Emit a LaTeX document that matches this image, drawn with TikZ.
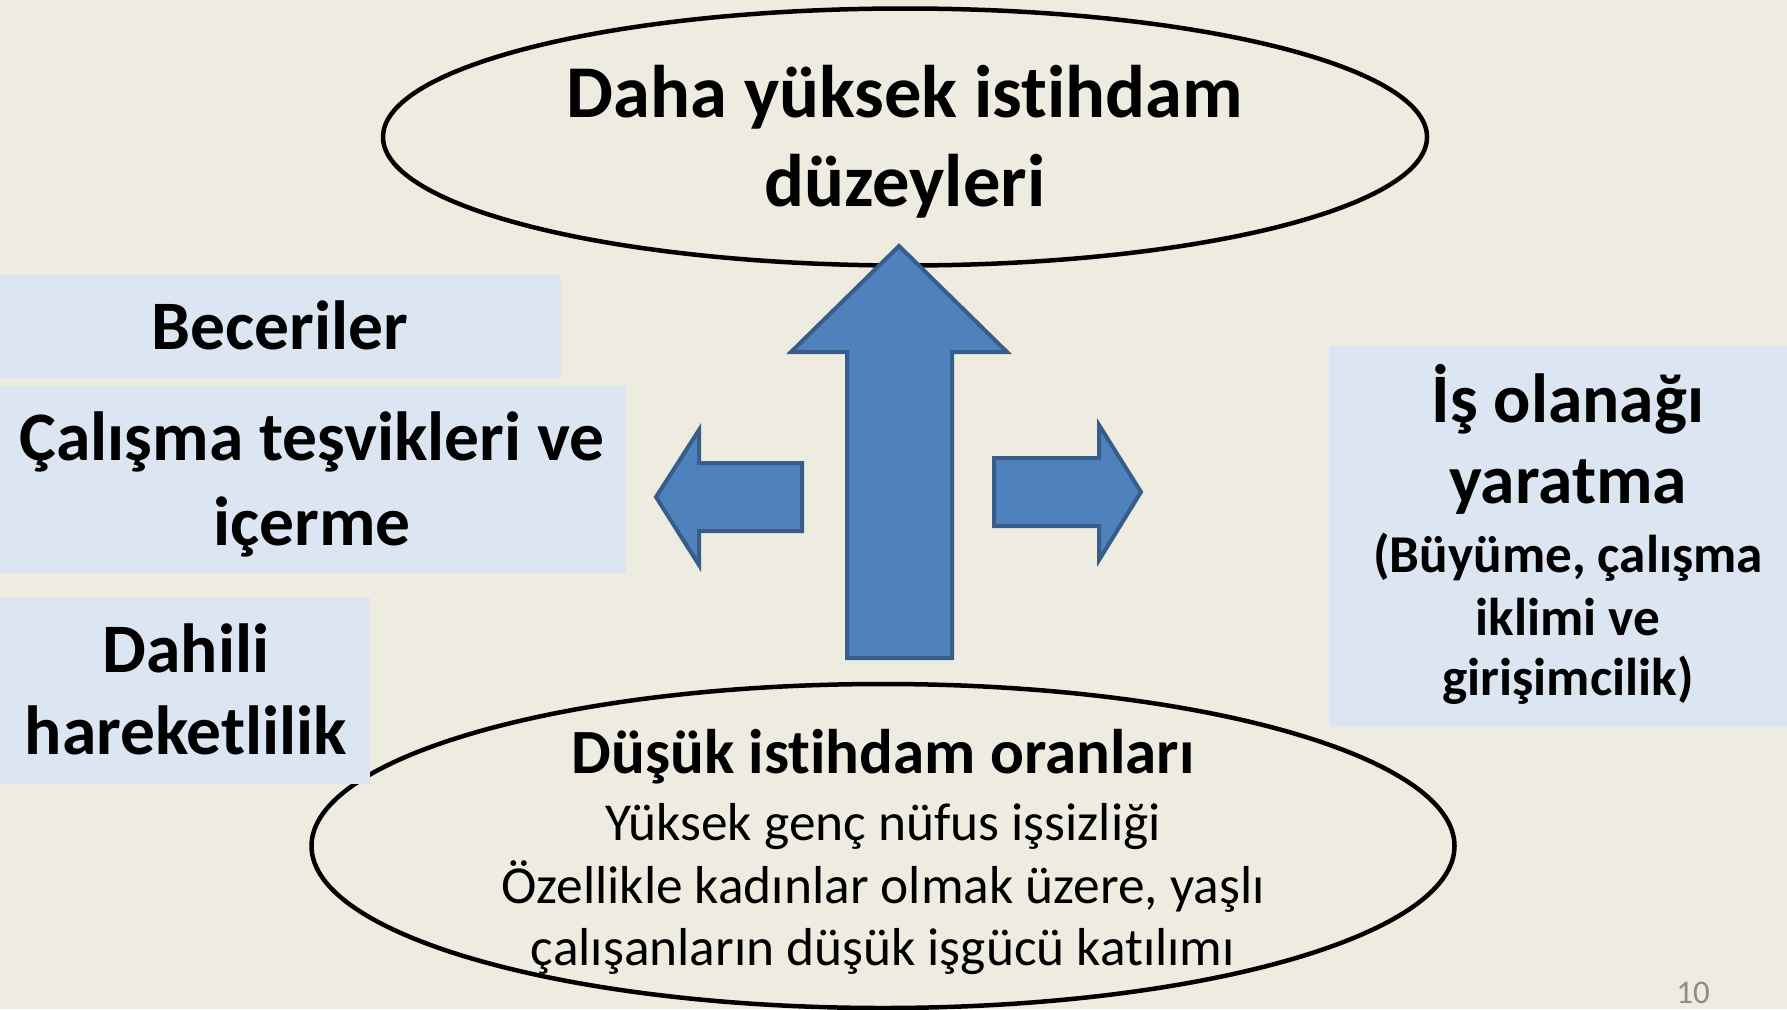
\documentclass[tikz,border=0pt]{standalone}
\usepackage{fontspec}
\setmainfont{Carlito}[Ligatures=NoCommon]
\usetikzlibrary{shapes.geometric}
\definecolor{bgtan}{HTML}{EEECE1}
\definecolor{boxblue}{HTML}{DCE6F2}
\definecolor{arrowfill}{HTML}{4F81BD}
\definecolor{arrowline}{HTML}{385D8A}
\definecolor{pagegray}{HTML}{8C8C8C}
\begin{document}
\begin{tikzpicture}[x=1pt,y=-1pt,
  oval/.style={ellipse, draw=black, line width=4.5pt, inner sep=0pt},
  panel/.style={fill=boxblue, inner sep=0pt, anchor=north west},
  blockarrow/.style={fill=arrowfill, draw=arrowline, line width=4pt, line join=miter},
  toptxt/.style={font=\fontsize{74.5}{90}\selectfont\bfseries, anchor=base, inner sep=0pt},
  bigtxt/.style={font=\fontsize{69.5}{85}\selectfont\bfseries, anchor=base, inner sep=0pt},
  midtxt/.style={font=\fontsize{53.2}{65}\selectfont\bfseries, anchor=base, inner sep=0pt},
  subtxt/.style={font=\fontsize{63}{76}\selectfont\bfseries, anchor=base, inner sep=0pt},
  plaintxt/.style={font=\fontsize{53.4}{65}\selectfont, anchor=base, inner sep=0pt},
  pagetxt/.style={font=\fontsize{33}{40}\selectfont, text=pagegray, anchor=base, inner sep=0pt}
]
\fill[bgtan] (0,0) rectangle (1787,1009);
\useasboundingbox (0,0) rectangle (1787,1009);

% ellipses
\node[oval, minimum width=1044pt, minimum height=257pt] (high) at (905,137) {};
\node[oval, minimum width=1143pt, minimum height=324pt] (low) at (883,846) {};

% panels
\node[panel, minimum width=561pt, minimum height=103pt] (skills) at (0,275) {};
\node[panel, minimum width=626pt, minimum height=187pt] (incent) at (0,386) {};
\node[panel, minimum width=370pt, minimum height=187pt] (mobil) at (0,597) {};
\node[panel, minimum width=458pt, minimum height=381pt] (jobs) at (1329,346) {};

% block arrows
\draw[blockarrow] (899,246) -- (1007,352) -- (952,352) -- (952,658) -- (847,658) -- (847,352) -- (791,352) -- cycle;
\draw[blockarrow] (656,497) -- (699,430) -- (699,463) -- (802,463) -- (802,531) -- (699,531) -- (699,565) -- cycle;
\draw[blockarrow] (1141,492) -- (1099,425) -- (1099,458) -- (994,458) -- (994,526) -- (1099,526) -- (1099,560) -- cycle;

% texts
\node[toptxt] (high1) at (905,117) {Daha yüksek istihdam};
\node[toptxt] (high2) at (905,206) {düzeyleri};

\node[bigtxt] (skills1) at (280,349) {Beceriler};
\node[bigtxt] (incent1) at (312,460) {Çalışma teşvikleri ve};
\node[bigtxt] (incent2) at (312,545) {içerme};
\node[bigtxt] (mobil1) at (186,672) {Dahili};
\node[bigtxt] (mobil2) at (186,754) {hareketlilik};

\node[bigtxt] (jobs1) at (1568,422) {İş olanağı};
\node[bigtxt] (jobs2) at (1568,503) {yaratma};
\node[midtxt] (jobs3) at (1568,572) {(Büyüme, çalışma};
\node[midtxt] (jobs4) at (1568,635) {iklimi ve};
\node[midtxt] (jobs5) at (1568,695) {girişimcilik)};

\node[subtxt] (low1) at (883,773) {Düşük istihdam oranları};
\node[plaintxt] (low2) at (883,840) {Yüksek genç nüfus işsizliği};
\node[plaintxt] (low3) at (883,903) {Özellikle kadınlar olmak üzere, yaşlı};
\node[plaintxt] (low4) at (883,965) {çalışanların düşük işgücü katılımı};

\node[pagetxt] (page) at (1693,1003) {10};
\end{tikzpicture}
\end{document}
